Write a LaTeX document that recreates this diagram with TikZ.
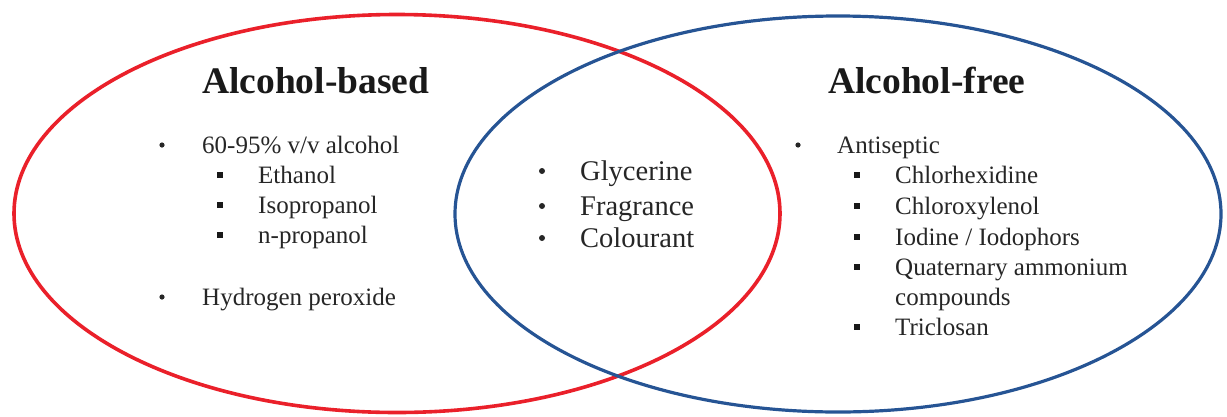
\documentclass[tikz,border=0pt]{standalone}
\usepackage{fontspec}
\setmainfont{Liberation Serif}
\begin{document}
\begin{tikzpicture}[x=1pt,y=-1pt,
  ring/.style={line width=3.6pt},
  title/.style={anchor=base west,inner sep=0pt,text=black!90,font=\fontsize{37.5}{45}\selectfont\bfseries},
  item/.style={anchor=base west,inner sep=0pt,text=black!85,font=\fontsize{25}{30}\selectfont},
  citem/.style={anchor=base west,inner sep=0pt,text=black!85,font=\fontsize{28.5}{34}\selectfont},
  dot/.style={circle,fill=black!85,inner sep=0pt,minimum size=5.2pt},
  cdot/.style={circle,fill=black!85,inner sep=0pt,minimum size=6pt},
  sq/.style={rectangle,fill=black!90,inner sep=0pt,minimum size=6.5pt}]
\definecolor{vred}{RGB}{234,32,42}
\definecolor{vblue}{RGB}{38,84,148}
\useasboundingbox (0,0) rectangle (1227,416);
% ellipses
\draw[ring,vred] (397,213.5) ellipse [x radius=383pt, y radius=199pt];
\draw[ring,vblue,line width=3.2pt] (838,214) ellipse [x radius=383pt, y radius=198pt];
% titles
\node[title] (tl) at (202,93) {Alcohol-based};
\node[title] (tr) at (828,93) {Alcohol-free};
% left list
\node[dot] (bl1) at (162,145) {};
\node[item] (l1) at (202,153) {60-95\% v/v alcohol};
\node[sq] (bl2) at (220,175) {};
\node[item] (l2) at (258,183) {Ethanol};
\node[sq] (bl3) at (220,205) {};
\node[item] (l3) at (258,213) {Isopropanol};
\node[sq] (bl4) at (220,235) {};
\node[item] (l4) at (258,243) {n-propanol};
\node[dot] (bl5) at (162,297) {};
\node[item] (l5) at (202,305) {Hydrogen peroxide};
% centre list
\node[cdot] (bc1) at (542,171) {};
\node[citem] (c1) at (580,180) {Glycerine};
\node[cdot] (bc2) at (542,206) {};
\node[citem] (c2) at (580,215) {Fragrance};
\node[cdot] (bc3) at (542,238) {};
\node[citem] (c3) at (580,247) {Colourant};
% right list
\node[dot] (br1) at (798,145) {};
\node[item] (r1) at (837,153) {Antiseptic};
\node[sq] (br2) at (857,175) {};
\node[item] (r2) at (895,183) {Chlorhexidine};
\node[sq] (br3) at (857,206) {};
\node[item] (r3) at (895,214) {Chloroxylenol};
\node[sq] (br4) at (857,237) {};
\node[item] (r4) at (895,245) {Iodine / Iodophors};
\node[sq] (br5) at (857,267) {};
\node[item] (r5) at (895,275) {Quaternary ammonium};
\node[item] (r6) at (895,305) {compounds};
\node[sq] (br7) at (857,327) {};
\node[item] (r7) at (895,335) {Triclosan};
\end{tikzpicture}
\end{document}
